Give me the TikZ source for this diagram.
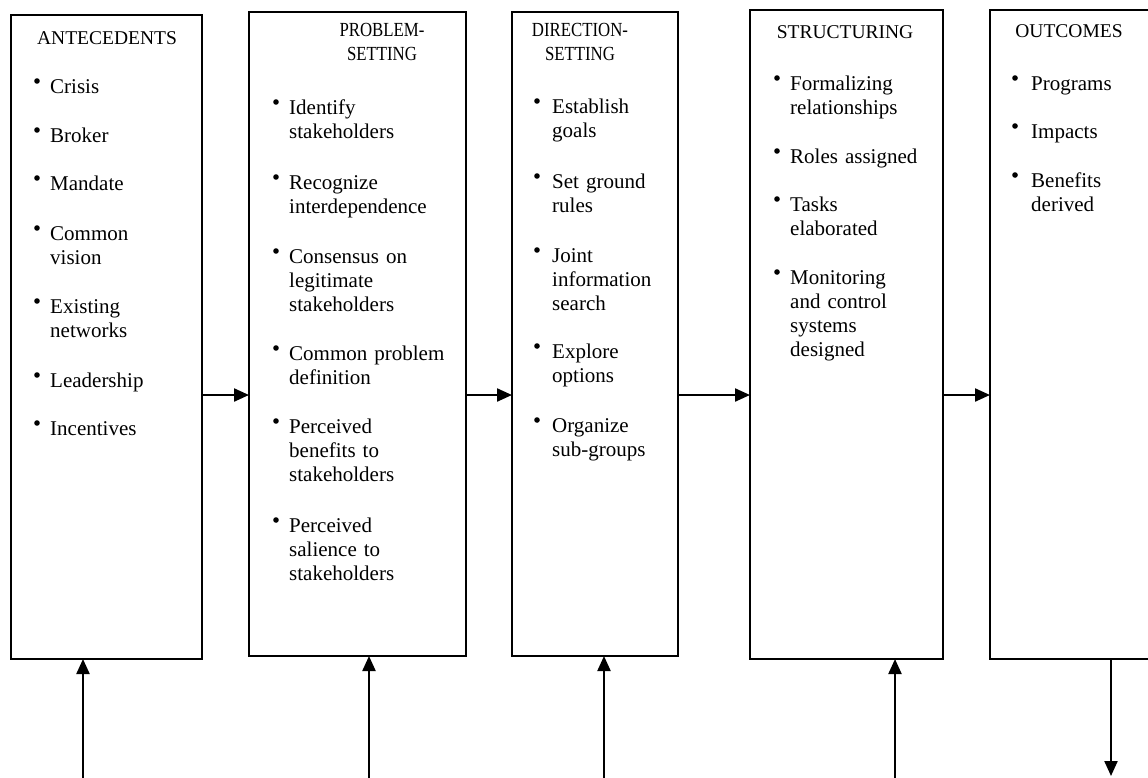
\documentclass[tikz,border=0pt]{standalone}
\usepackage{fontspec}
\usepackage{graphicx}
\setmainfont{Liberation Serif}
\usetikzlibrary{arrows.meta}
\newcommand\Itm[5]{\fill (#2,#4-12) circle (2.8pt); \node[itemtext] (#1) at (#3,#4) {#5};}
\newcommand\Nar[1]{\scalebox{0.84}[1]{#1}}
\begin{document}
\begin{tikzpicture}[x=1pt,y=-1pt,
  box/.style={draw,line width=2.2pt,inner sep=0pt,outer sep=0pt,anchor=north west},
  head/.style={anchor=base,inner sep=0pt,text width=200pt,align=center,font=\fontsize{19.5}{24}\selectfont},
  headtwo/.style={head,font=\fontsize{20}{24}\selectfont},
  itemtext/.style={anchor=base west,inner sep=0pt,text width=200pt,align=left,font=\fontsize{21}{24}\selectfont},
  arr/.style={line width=2.2pt,-{Triangle[length=15pt,width=13pt]}}]
\useasboundingbox (0,0) rectangle (1148,777);
\clip (0,0) rectangle (1148,777);
% boxes
\node[box,minimum width=191pt,minimum height=644pt] (b1) at (11,15) {};
\node[box,minimum width=217pt,minimum height=644pt] (b2) at (249,12) {};
\node[box,minimum width=166pt,minimum height=644pt] (b3) at (512,12) {};
\node[box,minimum width=193pt,minimum height=649pt] (b4) at (750,10) {};
\node[box,minimum width=180pt,minimum height=649pt] (b5) at (990,10) {};
% headings
\node[head] (h1) at (107,44) {ANTECEDENTS};
\node[headtwo] (h2) at (382,36) {\Nar{PROBLEM-}\\\Nar{SETTING}};
\node[headtwo] (h3) at (580,36) {\Nar{DIRECTION-}\\\Nar{SETTING}};
\node[head] (h4) at (845,38) {STRUCTURING};
\node[head] (h5) at (1069,37) {OUTCOMES};
% box 1 items
\Itm{a1}{37}{50}{93}{Crisis}
\Itm{a2}{37}{50}{142}{Broker}
\Itm{a3}{37}{50}{190}{Mandate}
\Itm{a4}{37}{50}{240}{Common\\vision}
\Itm{a5}{37}{50}{313}{Existing\\networks}
\Itm{a6}{37}{50}{387}{Leadership}
\Itm{a7}{37}{50}{435}{Incentives}
% box 2 items
\Itm{p1}{276}{289}{114}{Identify\\stakeholders}
\Itm{p2}{276}{289}{189}{Recognize\\interdependence}
\Itm{p3}{276}{289}{263}{Consensus on\\legitimate\\stakeholders}
\Itm{p4}{276}{289}{360}{Common problem\\definition}
\Itm{p5}{276}{289}{433}{Perceived\\benefits to\\stakeholders}
\Itm{p6}{276}{289}{532}{Perceived\\salience to\\stakeholders}
% box 3 items
\Itm{d1}{537}{552}{113}{Establish\\goals}
\Itm{d2}{537}{552}{188}{Set ground\\rules}
\Itm{d3}{537}{552}{262}{Joint\\information\\search}
\Itm{d4}{537}{552}{358}{Explore\\options}
\Itm{d5}{537}{552}{432}{Organize\\sub-groups}
% box 4 items
\Itm{s1}{777}{790}{90}{Formalizing\\relationships}
\Itm{s2}{777}{790}{163}{Roles assigned}
\Itm{s3}{777}{790}{211}{Tasks\\elaborated}
\Itm{s4}{777}{790}{284}{Monitoring\\and control\\systems\\designed}
% box 5 items
\Itm{o1}{1015}{1031}{90}{Programs}
\Itm{o2}{1015}{1031}{138}{Impacts}
\Itm{o3}{1015}{1031}{187}{Benefits\\derived}
% horizontal arrows
\coordinate (hy) at (0,395);
\draw[arr] (b1.east |- hy) -- (b2.west |- hy);
\draw[arr] (b2.east |- hy) -- (b3.west |- hy);
\draw[arr] (b3.east |- hy) -- (b4.west |- hy);
\draw[arr] (b4.east |- hy) -- (b5.west |- hy);
% bottom arrows
\coordinate (u1) at (83,778);
\coordinate (u2) at (369,778);
\coordinate (u3) at (604,778);
\coordinate (u4) at (895,778);
\coordinate (dn) at (1111,776);
\draw[arr] (u1) -- (u1 |- b1.south);
\draw[arr] (u2) -- (u2 |- b2.south);
\draw[arr] (u3) -- (u3 |- b3.south);
\draw[arr] (u4) -- (u4 |- b4.south);
\draw[arr] (dn |- b5.south) -- (dn);
\end{tikzpicture}
\end{document}
